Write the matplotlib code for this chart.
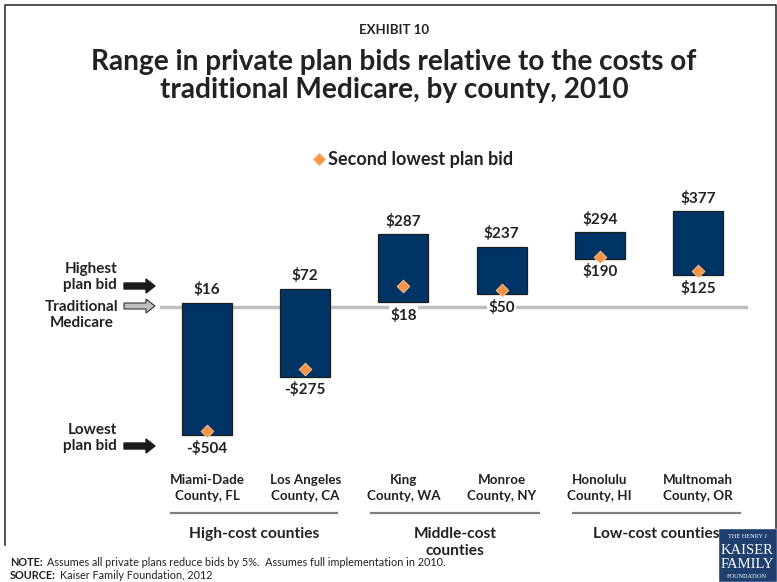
import matplotlib
matplotlib.use('Agg')
import matplotlib.pyplot as plt
from matplotlib.patches import FancyArrow, Rectangle

plt.rcParams['font.family'] = ['Lato', 'DejaVu Sans']

# Plan bids relative to traditional Medicare costs ($ per enrollee)
counties = ['Miami-Dade\nCounty, FL', 'Los Angeles\nCounty, CA', 'King\nCounty, WA',
            'Monroe\nCounty, NY', 'Honolulu\nCounty, HI', 'Multnomah\nCounty, OR']
highest = [16, 72, 287, 237, 294, 377]
lowest = [-504, -275, 18, 50, 190, 125]
second_lowest = [-488, -244, 83, 65, 195, 141]
groups = ['High-cost counties', 'Middle-cost\ncounties', 'Low-cost counties']

navy = '#003366'
orange = '#F79646'
text_col = '#222222'

def money(v):
    return ('-$%d' % -v) if v < 0 else ('$%d' % v)

W, H = 777, 582
fig = plt.figure(figsize=(W / 100, H / 100), dpi=100)

# overlay in pixel units for titles, arrows and notes
ov = fig.add_axes([0, 0, 1, 1])
ov.set_xlim(0, W)
ov.set_ylim(H, 0)
ov.axis('off')

# main chart axes
ax_l, ax_r, ax_t, ax_b = 160, 748, 150, 470
ax = fig.add_axes([ax_l / W, 1 - ax_b / H, (ax_r - ax_l) / W, (ax_b - ax_t) / H])
ax.set_xlim(-0.48, 5.51)
ax.set_ylim(-642, 618)
ax.axis('off')

x = list(range(len(counties)))
spans = [h - l for h, l in zip(highest, lowest)]
ax.axhline(0, color='#BFBFBF', lw=2.5, zorder=1)
ax.bar(x, spans, bottom=lowest, width=0.51, color=navy, edgecolor='#1c1c1c',
       linewidth=0.9, zorder=2)
ax.scatter(x, second_lowest, marker='D', s=42, color=orange, edgecolor='#FBC99A',
           linewidth=0.6, zorder=3)

for i in x:
    ax.annotate(money(highest[i]), (i, highest[i]), xytext=(0, 4), textcoords='offset points',
                ha='center', va='bottom', fontsize=11, fontweight='bold', color=text_col)
    bb = dict(boxstyle='square,pad=0.1', fc='white', ec='none') if lowest[i] > 0 else None
    ax.annotate(money(lowest[i]), (i, lowest[i]), xytext=(0, -4), textcoords='offset points',
                ha='center', va='top', fontsize=11, fontweight='bold', color=text_col,
                bbox=bb, zorder=4)

# county names under the chart
for i, name in enumerate(counties):
    px = ax_l + (i + 0.48) / 5.99 * (ax_r - ax_l)
    ov.text(px, 488, name, ha='center', va='center', fontsize=9.6, fontweight='bold',
            color=text_col, linespacing=1.4)

# group brackets
group_lines = [(171, 337), (371, 539), (573, 740)]
for (a, b), g in zip(group_lines, groups):
    ov.plot([a, b], [513, 513], color='#808080', lw=1.6)
    ov.text((a + b) / 2, 527, g, ha='center', va='top', fontsize=11.2, fontweight='bold',
            color=text_col, linespacing=1.25)

# titles
ov.text(394, 30, 'EXHIBIT 10', ha='center', va='center', fontsize=9.5, fontweight='bold',
        color=text_col)
ov.text(394, 76, 'Range in private plan bids relative to the costs of\ntraditional Medicare, by county, 2010',
        ha='center', va='center', fontsize=20.2, fontweight='bold', color=text_col,
        linespacing=1.12)

# legend
ov.scatter([319], [159], marker='D', s=42, color=orange, edgecolor='#FBC99A', linewidth=0.6)
ov.text(328, 159, 'Second lowest plan bid', ha='left', va='center', fontsize=13,
        fontweight='bold', color=text_col)

# left-hand key with block arrows
ov.text(117, 277, 'Highest\nplan bid', ha='right', va='center', fontsize=11,
        fontweight='bold', color=text_col, multialignment='right', linespacing=1.15)
ov.add_patch(FancyArrow(124, 286, 31, 0, width=6, head_width=14, head_length=9,
                        length_includes_head=True, color='#1a1a1a'))
ov.text(82, 315, 'Traditional\nMedicare', ha='center', va='center', fontsize=11,
        fontweight='bold', color=text_col, linespacing=1.15)
ov.add_patch(FancyArrow(124, 306, 31, 0, width=6, head_width=14, head_length=9,
                        length_includes_head=True, fc='#BFBFBF', ec='#333333', lw=0.8))
ov.text(117, 438, 'Lowest\nplan bid', ha='right', va='center', fontsize=11,
        fontweight='bold', color=text_col, multialignment='right', linespacing=1.15)
ov.add_patch(FancyArrow(124, 446, 31, 0, width=6, head_width=14, head_length=9,
                        length_includes_head=True, color='#1a1a1a'))

# slide frame
ov.plot([5, 5, 776, 776], [545, 5, 5, 528], color='#333333', lw=1.2)

# notes
note = ov.text(10, 568, 'NOTE:', ha='left', va='bottom', fontsize=7.8, fontweight='bold',
               color=text_col)
ov.annotate('Assumes all private plans reduce bids by 5%.  Assumes full implementation in 2010.',
            xy=(1, 0), xycoords=note, xytext=(3, 0), textcoords='offset points',
            ha='left', va='bottom', fontsize=7.8, color=text_col)
src = ov.text(10, 581, 'SOURCE:', ha='left', va='bottom', fontsize=7.8, fontweight='bold',
              color=text_col)
ov.annotate('Kaiser Family Foundation, 2012', xy=(1, 0), xycoords=src, xytext=(3, 0),
            textcoords='offset points', ha='left', va='bottom', fontsize=7.8, color=text_col)

# foundation logo
ov.add_patch(Rectangle((718, 528), 59, 54, fc='#1F3F6E', ec='white', lw=1))
ov.text(747, 536, 'THE HENRY J', ha='center', va='center', fontsize=4.5, color='white',
        family='Liberation Serif')
for yy, word in [(550, 'KAISER'), (565, 'FAMILY')]:
    ov.text(747, yy, word, ha='center', va='center', fontsize=10.5, color='white',
            family='Liberation Serif')
ov.text(747, 577, 'FOUNDATION', ha='center', va='center', fontsize=4.5, color='white',
        family='Liberation Serif')

fig.savefig('out.png', dpi=100)
